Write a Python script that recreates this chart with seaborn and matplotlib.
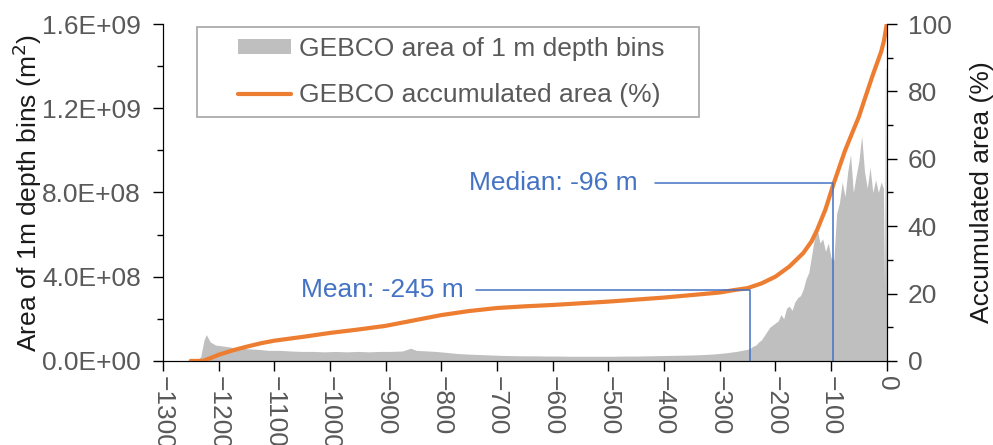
import numpy as np
import pandas as pd
import matplotlib
matplotlib.use("Agg")
import matplotlib.pyplot as plt
from matplotlib.patches import Rectangle
from matplotlib.ticker import FuncFormatter, MultipleLocator
import seaborn as sns

# area of 1 m depth bins (m2)
depth_bins = [-1240, -1232, -1226, -1222, -1215, -1205, -1190, -1170, -1150, -1130,
              -1110, -1090, -1070, -1050, -1030, -1010, -990, -970, -950, -930,
              -910, -890, -870, -855, -845, -830, -810, -790, -770, -750,
              -730, -710, -690, -670, -650, -630, -610, -590, -570, -550,
              -530, -510, -490, -470, -450, -430, -410, -390, -370, -350,
              -330, -310, -290, -270, -260,
              -250, -245, -240, -235, -230, -225, -220, -215, -210, -205,
              -200, -195, -190, -185, -180, -175, -170, -165, -160, -155,
              -150, -145, -140, -135, -130, -125, -120, -115, -110, -105,
              -100, -95, -90, -85, -80, -75, -70, -65, -60, -55,
              -50, -45, -40, -35, -30, -25, -20, -15, -10, -6,
              -4, -2.5, -1.5, -0.5]
area_e8 = [0.0, 0.2, 1.0, 1.25, 0.9, 0.75, 0.7, 0.62, 0.58, 0.55,
           0.5, 0.5, 0.47, 0.45, 0.45, 0.43, 0.45, 0.43, 0.45, 0.43,
           0.45, 0.45, 0.47, 0.6, 0.5, 0.48, 0.45, 0.4, 0.35, 0.32,
           0.3, 0.28, 0.26, 0.25, 0.24, 0.24, 0.23, 0.23, 0.22, 0.22,
           0.22, 0.22, 0.22, 0.23, 0.23, 0.24, 0.25, 0.26, 0.27, 0.28,
           0.3, 0.33, 0.38, 0.45, 0.5,
           0.55, 0.6, 0.7, 0.75, 0.9, 1.0, 1.2, 1.4, 1.6, 1.7,
           1.8, 1.9, 2.2, 2.0, 2.5, 2.6, 2.4, 2.8, 3.0, 3.1,
           3.4, 3.9, 4.2, 5.0, 5.8, 6.3, 5.6, 5.8, 5.2, 5.6,
           4.9, 4.8, 7.0, 7.5, 8.5, 7.8, 9.0, 9.8, 8.0, 8.8,
           9.5, 10.7, 9.0, 8.2, 9.2, 8.0, 8.6, 8.0, 8.5, 8.2,
           3.5, 13.9, 13.9, 3.5]

# accumulated area (%)
cum_depth = [-1250, -1228, -1215, -1200, -1175, -1150, -1125, -1100, -1050, -1000,
             -950, -900, -850, -800, -750, -700, -650, -600, -500, -400,
             -300, -275, -250, -225, -200, -175, -150, -135, -125, -110,
             -96, -85, -75, -60, -50, -40, -25, -10, -5, 0]
cum_pct = [0.0, 0.0, 0.8, 1.8, 3.1, 4.2, 5.2, 6.0, 7.1, 8.3,
           9.3, 10.4, 12.0, 13.6, 14.8, 15.7, 16.2, 16.6, 17.6, 18.8,
           20.3, 21.0, 21.6, 23.0, 25.0, 28.0, 32.0, 35.5, 38.9, 45.0,
           52.3, 57.6, 62.4, 68.5, 72.5, 77.5, 84.9, 91.8, 95.0, 100.0]

mean_depth, mean_pct = -245, 21.0
median_depth, median_pct = -96, 52.8

hist = pd.DataFrame({"depth": depth_bins, "area": np.array(area_e8) * 1e8})
cum = pd.DataFrame({"depth": cum_depth, "pct": cum_pct})

sns.set_style("ticks")
plt.rcParams["font.family"] = ["Liberation Sans", "DejaVu Sans"]
FS = 19
TICK_C = "#595959"
LAB_C = "#1a1a1a"
BLUE = "#4472c4"
ORANGE = "#ed7d31"

W, H = 993, 445
fig = plt.figure(figsize=(W / 100, H / 100), dpi=100)
ax = fig.add_axes([0.164, 0.189, 0.729, 0.757])
ax2 = ax.twinx()

ax.fill_between(hist["depth"], 0, hist["area"], color="#bfbfbf", lw=0,
                label="GEBCO area of 1 m depth bins")
sns.lineplot(data=cum, x="depth", y="pct", ax=ax2, color=ORANGE, lw=3,
             label="GEBCO accumulated area (%)")

ax.set_xlim(-1300, 0)
ax.set_ylim(0, 1.6e9)
ax2.set_ylim(0, 100)

ax.xaxis.set_major_locator(MultipleLocator(100))
ax.yaxis.set_major_locator(MultipleLocator(4e8))
ax.yaxis.set_minor_locator(MultipleLocator(2e8))
ax.yaxis.set_major_formatter(FuncFormatter(lambda v, p: f"{v:.1E}"))
ax2.yaxis.set_major_locator(MultipleLocator(20))
ax2.yaxis.set_minor_locator(MultipleLocator(10))

for a in (ax, ax2):
    a.tick_params(which="major", length=7, width=1, direction="out",
                  labelsize=FS, labelcolor=TICK_C, color="black")
    a.tick_params(which="minor", length=4, width=1, direction="out", color="black")
    a.spines["top"].set_visible(False)
    for s in a.spines.values():
        s.set_color("black")
ax.tick_params(axis="y", pad=9)
ax2.tick_params(axis="y", pad=8)
ax.tick_params(axis="x", rotation=-90, pad=4)
for t in ax.get_xticklabels():
    t.set_va("top")

ax.set_xlabel("")
ax.set_ylabel("Area of 1m depth bins (m$^2$)", fontsize=FS, color=LAB_C, labelpad=-2)
ax2.set_xlabel("")
ax2.set_ylabel("Accumulated area (%)", fontsize=FS, color=LAB_C, labelpad=13)

# mean / median guide lines
ax2.plot([-738, mean_depth, mean_depth], [mean_pct, mean_pct, 0], color=BLUE, lw=1.1)
ax2.text(-760, mean_pct, "Mean: -245 m", fontsize=FS, color=BLUE, ha="right", va="center")
ax2.plot([-417, median_depth, median_depth], [median_pct, median_pct, 0], color=BLUE, lw=1.1)
ax2.text(-447, median_pct, "Median: -96 m", fontsize=FS, color=BLUE, ha="right", va="center")

# legend with a separate frame box
h1, l1 = ax.get_legend_handles_labels()
h2, l2 = ax2.get_legend_handles_labels()
leg = ax2.legend(h1 + h2, l1 + l2, loc="upper left",
                 bbox_to_anchor=(238 / W, 1 - 37 / H), bbox_transform=fig.transFigure,
                 fontsize=FS, frameon=False, handlelength=2.0, handleheight=0.5,
                 labelspacing=0.85, borderpad=0, borderaxespad=0, handletextpad=0.3)
for t in leg.get_texts():
    t.set_color(TICK_C)
leg.set_zorder(6)
ax2.add_patch(Rectangle((197 / W, 1 - 117 / H), 502 / W, 90 / H,
                        transform=fig.transFigure, fill=True, facecolor="white",
                        edgecolor="#a6a6a6", lw=1.2, zorder=5, clip_on=False))

fig.savefig("out.png", dpi=100)
